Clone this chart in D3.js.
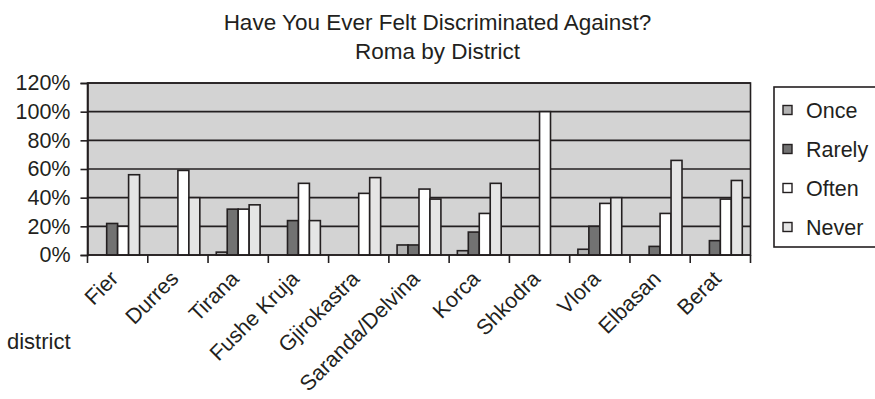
<!DOCTYPE html>
<html>
<head>
<meta charset="utf-8">
<script src="https://cdn.jsdelivr.net/npm/d3@7"></script>
<style>
  body { margin: 0; background: #fff; overflow: hidden; }
  text { font-family: "Liberation Sans", Arial, Helvetica, sans-serif; fill: #231f20; }
</style>
</head>
<body>
<svg id="chart" width="875" height="399"></svg>
<script>
// Share of Roma respondents per district, percent
const districts = ["Fier", "Durres", "Tirana", "Fushe Kruja", "Gjirokastra", "Saranda/Delvina",
                   "Korca", "Shkodra", "Vlora", "Elbasan", "Berat"];
const seriesNames = ["Once", "Rarely", "Often", "Never"];
const once   = [0, 0, 2, 0, 0, 7, 3, 0, 4, 0, 0];
const rarely = [22, 0, 32, 24, 0, 7, 16, 0, 20, 6, 10];
const often  = [20, 59, 32, 50, 43, 46, 29, 100, 36, 29, 39];
const never  = [56, 40, 35, 24, 54, 39, 50, 0, 40, 66, 52];
const yTicks = [0, 20, 40, 60, 80, 100, 120];
const titleLines = ["Have You Ever Felt Discriminated Against?", "Roma by District"];
const xAxisTitle = "district";

const seriesValues = [once, rarely, often, never];
const fills = ["#b3b3b3", "#727272", "#ffffff", "#e5e5e5"];
const ink = "#231f20";

const svg = d3.select("#chart");
const plot = { left: 87.5, right: 750.5, top: 83, bottom: 255 };

const x = d3.scaleBand().domain(districts).range([plot.left, plot.right]).padding(0);
const xs = d3.scaleBand().domain(seriesNames).range([0, x.bandwidth()])
  .paddingInner(0).paddingOuter(0.75);
const y = d3.scaleLinear().domain([0, 120]).range([plot.bottom, plot.top]);
const color = d3.scaleOrdinal().domain(seriesNames).range(fills);

// Title
svg.append("g").selectAll("text").data(titleLines).join("text")
  .attr("x", 437.5).attr("y", (d, i) => 30 + i * 29)
  .attr("text-anchor", "middle").attr("font-size", 22.5).text(d => d);

// Plot background
svg.append("rect")
  .attr("x", plot.left).attr("y", plot.top)
  .attr("width", plot.right - plot.left).attr("height", plot.bottom - plot.top)
  .attr("fill", "#d3d3d3");

// Horizontal gridlines
svg.append("g").selectAll("line").data(yTicks).join("line")
  .attr("x1", plot.left).attr("x2", plot.right)
  .attr("y1", d => y(d)).attr("y2", d => y(d))
  .attr("stroke", ink).attr("stroke-width", 1.6);

// Bars
const rows = districts.map((d, i) => ({
  district: d,
  values: seriesNames.map((s, k) => ({ series: s, value: seriesValues[k][i] }))
}));
const groups = svg.append("g").selectAll("g").data(rows).join("g")
  .attr("transform", d => `translate(${x(d.district)},0)`);
groups.selectAll("rect").data(d => d.values.filter(v => v.value > 0)).join("rect")
  .attr("x", d => xs(d.series))
  .attr("width", xs.bandwidth())
  .attr("y", d => y(d.value))
  .attr("height", d => y(0) - y(d.value))
  .attr("fill", d => color(d.series))
  .attr("stroke", ink).attr("stroke-width", 1.6);

// Plot frame
svg.append("rect")
  .attr("x", plot.left).attr("y", plot.top)
  .attr("width", plot.right - plot.left).attr("height", plot.bottom - plot.top)
  .attr("fill", "none").attr("stroke", ink).attr("stroke-width", 1.6);

// Y axis
const yAxis = svg.append("g").attr("transform", `translate(${plot.left},0)`)
  .call(d3.axisLeft(y).tickValues(yTicks).tickFormat(d => d + "%").tickSize(7).tickPadding(10));
yAxis.select(".domain").attr("stroke", ink).attr("stroke-width", 1.6);
yAxis.selectAll(".tick line").attr("stroke", ink).attr("stroke-width", 1.6);
yAxis.selectAll(".tick text").attr("font-size", 21.5).attr("font-family", null).attr("fill", ink);

// Category boundary ticks
const bounds = districts.map(d => x(d)).concat([plot.right]);
svg.append("g").selectAll("line").data(bounds).join("line")
  .attr("x1", d => d).attr("x2", d => d)
  .attr("y1", plot.bottom).attr("y2", plot.bottom + 8)
  .attr("stroke", ink).attr("stroke-width", 1.6);

// Category labels, rotated so each ends just under its category centre
const xAxis = svg.append("g").attr("transform", `translate(0,${plot.bottom})`)
  .call(d3.axisBottom(x).tickSize(0).tickPadding(0));
xAxis.select(".domain").remove();
xAxis.selectAll(".tick text")
  .attr("font-size", 21.5).attr("font-family", null).attr("fill", ink)
  .attr("text-anchor", "end")
  .attr("y", 0).attr("dy", 0)
  .attr("transform", "translate(2,25) rotate(-45)");

svg.append("text").attr("x", 7).attr("y", 349).attr("font-size", 22).text(xAxisTitle);

// Legend
const legend = svg.append("g").attr("transform", "translate(774,87)");
legend.append("rect").attr("width", 130).attr("height", 160)
  .attr("fill", "#fff").attr("stroke", ink).attr("stroke-width", 1.6);
const items = legend.selectAll("g").data(seriesNames).join("g")
  .attr("transform", (d, i) => `translate(9,${23 + i * 39})`);
items.append("rect").attr("x", 0).attr("y", -4.5).attr("width", 9).attr("height", 9)
  .attr("fill", d => color(d)).attr("stroke", ink).attr("stroke-width", 1.4);
items.append("text").attr("x", 23).attr("dy", "0.36em").attr("font-size", 21.5).text(d => d);
</script>
</body>
</html>
